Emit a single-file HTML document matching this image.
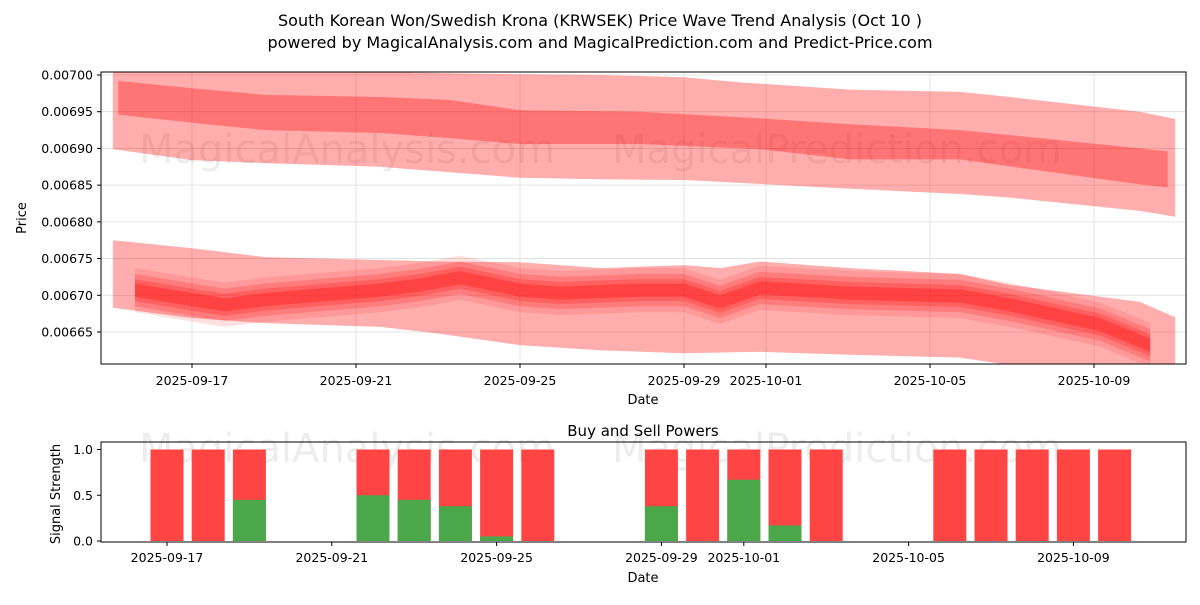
<!DOCTYPE html>
<html><head><meta charset="utf-8"><style>
body{margin:0;background:#fff;font-family:"Liberation Sans","DejaVu Sans",sans-serif;}
svg text{font-family:"DejaVu Sans","Liberation Sans",sans-serif;}
</style></head><body>
<svg id="chart" width="1200" height="600" xmlns="http://www.w3.org/2000/svg">
<rect width="1200" height="600" fill="#fff"/>
<text x="600" y="26" font-size="16" text-anchor="middle">South Korean Won/Swedish Krona (KRWSEK) Price Wave Trend Analysis (Oct 10 )</text>
<text x="600" y="48" font-size="16" text-anchor="middle">powered by MagicalAnalysis.com and MagicalPrediction.com and Predict-Price.com</text>
<defs>
<clipPath id="c1"><rect x="101" y="72" width="1085" height="292"/></clipPath>
<clipPath id="c2"><rect x="101" y="442" width="1085" height="100"/></clipPath>
</defs>
<g id="topPlot"></g>
<g id="botPlot"></g>
</svg>
<script>
// ---- price chart data (days relative to 2025-09-17) ----
const upOuterDays=[-1.93,0,1.78,4.59,8,9.95,12,13.37,16.05,18.73,19.95,23.12,23.98];
const upOuterTop=[0.007004,0.007004,0.007004,0.007004,0.007001,0.0070,0.006997,0.00699,0.00698,0.006977,0.00697,0.00695,0.00694];
const upOuterBot=[0.006899,0.006884,0.00688,0.006875,0.00686,0.006858,0.006857,0.006853,0.006845,0.006838,0.006833,0.006815,0.006807];
const upInnerDays=[-1.8,0,1.78,4.59,6.3,8,10.93,13.85,16.05,18.73,23.12,23.8];
const upInnerTop=[0.006992,0.006982,0.006973,0.00697,0.006966,0.006952,0.00695,0.006941,0.006933,0.006925,0.0069,0.006896];
const upInnerBot=[0.006946,0.006935,0.006925,0.006921,0.006914,0.006906,0.006906,0.006899,0.006885,0.006885,0.006851,0.006847];
const loOuterDays=[-1.93,0,1.78,4.59,6,8,10,12,12.9,13.85,16.05,18.73,19.95,23.12,23.98];
const loOuterTop=[0.006775,0.006764,0.006752,0.006748,0.006746,0.006745,0.006737,0.006741,0.006737,0.006746,0.006737,0.006729,0.006714,0.006691,0.00667];
const loOuterBot=[0.006683,0.006669,0.006662,0.006657,0.006648,0.006632,0.006625,0.006621,0.006622,0.006623,0.006619,0.006615,0.006605,0.00659,0.006585];
const loCoreDays=[-1.39,0,0.8,1.78,4.59,5.56,6.54,8,8.98,10.93,12,12.88,13.85,16.05,18.73,19.95,22.15,23.37];
const loCoreVals=[0.006707,0.006694,0.006687,0.006694,0.006707,0.006714,0.006724,0.006707,0.006703,0.006707,0.006707,0.006691,0.00671,0.006703,0.006699,0.006687,0.00666,0.006632];
const yTicks=[0.00665,0.00670,0.00675,0.00680,0.00685,0.00690,0.00695,0.00700];
const xTickDays=[0,4,8,12,14,18,22];
const xTickLabels=["2025-09-17","2025-09-21","2025-09-25","2025-09-29","2025-10-01","2025-10-05","2025-10-09"];
// ---- signal chart data ----
const barDays=[0,1,2,5,6,7,8,9,12,13,14,15,16,19,20,21,22,23];
const buyVals=[0,0,0.45,0.5,0.45,0.38,0.05,0,0.38,0,0.67,0.17,0,0,0,0,0,0];
const sigTicks=[0,0.5,1.0];

const NS="http://www.w3.org/2000/svg";
function mk(tag,attrs,parent){const e=document.createElementNS(NS,tag);for(const k in attrs)e.setAttribute(k,attrs[k]);parent.appendChild(e);return e;}
const X1=d=>192+d*41, Y1=v=>75+(0.007-v)*734200;
const X2=d=>167+d*41.2, Y2=v=>541-v*91.5;
const gTop=document.getElementById('topPlot'), gBot=document.getElementById('botPlot');

yTicks.forEach(t=>{mk('line',{x1:101,x2:1186,y1:Y1(t),y2:Y1(t),stroke:'#ddd','stroke-width':0.8},gTop);});
xTickDays.forEach(d=>{mk('line',{x1:X1(d),x2:X1(d),y1:72,y2:364,stroke:'#ddd','stroke-width':0.8},gTop);});
const wm1=mk('text',{x:347,y:163,'font-size':40,fill:'#000','fill-opacity':0.07,'text-anchor':'middle'},gTop);wm1.textContent='MagicalAnalysis.com';


const wm2=mk('text',{x:837,y:163,'font-size':40,fill:'#000','fill-opacity':0.07,'text-anchor':'middle'},gTop);wm2.textContent='MagicalPrediction.com';


const gc=mk('g',{'clip-path':'url(#c1)'},gTop);
function band(days,tops,bots,fill,op,name){
  let pts=days.map((d,i)=>X1(d)+','+Y1(tops[i]));
  for(let i=days.length-1;i>=0;i--)pts.push(X1(days[i])+','+Y1(bots[i]));
  const p=mk('polygon',{points:pts.join(' '),fill:fill,'fill-opacity':op},gc);
  
  
}
band(upOuterDays,upOuterTop,upOuterBot,'#ff0000',0.32,'upper-outer-band');
band(upInnerDays,upInnerTop,upInnerBot,'#ff0000',0.32,'upper-inner-band');
band(loOuterDays,loOuterTop,loOuterBot,'#ff0000',0.32,'lower-outer-band');
[[0.000030,0.12],[0.000022,0.18],[0.000015,0.22],[0.000009,0.3]].forEach(([hw,op])=>{
  band(loCoreDays,loCoreVals.map(v=>v+hw),loCoreVals.map(v=>v-hw),'#ff0000',op,'lower-wave-band');
});
mk('rect',{x:101,y:72,width:1085,height:292,fill:'none',stroke:'#000','stroke-width':1},gTop);
yTicks.forEach(t=>{const y=Y1(t);mk('line',{x1:97,x2:101,y1:y,y2:y,stroke:'#000'},gTop);
  const tx=mk('text',{x:93,y:y+4.5,'font-size':12.5,'text-anchor':'end'},gTop);tx.textContent=t.toFixed(5);
  
  });
xTickDays.forEach((d,i)=>{const x=X1(d);mk('line',{x1:x,x2:x,y1:364,y2:368,stroke:'#000'},gTop);
  const tx=mk('text',{x:x,y:385,'font-size':12.5,'text-anchor':'middle'},gTop);tx.textContent=xTickLabels[i];
  
  });
const xl=mk('text',{x:643,y:404,'font-size':13,'text-anchor':'middle'},gTop);xl.textContent='Date';


const yl=mk('text',{x:0,y:0,'font-size':13,'text-anchor':'middle',transform:'translate(26,218) rotate(-90)'},gTop);yl.textContent='Price';



const bt=mk('text',{x:643,y:436,'font-size':15,'text-anchor':'middle'},gBot);bt.textContent='Buy and Sell Powers';


const wm3=mk('text',{x:347,y:462,'font-size':40,fill:'#000','fill-opacity':0.07,'text-anchor':'middle'},gBot);wm3.textContent='MagicalAnalysis.com';


const wm4=mk('text',{x:837,y:462,'font-size':40,fill:'#000','fill-opacity':0.07,'text-anchor':'middle'},gBot);wm4.textContent='MagicalPrediction.com';


const gb=mk('g',{'clip-path':'url(#c2)'},gBot);
barDays.forEach((d,i)=>{const x=X2(d)-16.5;
  const r=mk('rect',{x:x,y:Y2(1),width:33,height:Y2(0)-Y2(1),fill:'#ff4444'},gb);
  
  
  if(buyVals[i]>0){const g=mk('rect',{x:x,y:Y2(buyVals[i]),width:33,height:Y2(0)-Y2(buyVals[i]),fill:'#4aa84a'},gb);
  
  }
});
mk('rect',{x:101,y:442,width:1085,height:100,fill:'none',stroke:'#000','stroke-width':1},gBot);
sigTicks.forEach(t=>{const y=Y2(t);mk('line',{x1:97,x2:101,y1:y,y2:y,stroke:'#000'},gBot);
  const tx=mk('text',{x:93,y:y+4.5,'font-size':12.5,'text-anchor':'end'},gBot);tx.textContent=t.toFixed(1);
  
  });
xTickDays.forEach((d,i)=>{const x=X2(d);mk('line',{x1:x,x2:x,y1:542,y2:546,stroke:'#000'},gBot);
  const tx=mk('text',{x:x,y:562,'font-size':12.5,'text-anchor':'middle'},gBot);tx.textContent=xTickLabels[i];
  
  });
const xl2=mk('text',{x:643,y:582,'font-size':13,'text-anchor':'middle'},gBot);xl2.textContent='Date';


const yl2=mk('text',{x:0,y:0,'font-size':13,'text-anchor':'middle',transform:'translate(60,494) rotate(-90)'},gBot);yl2.textContent='Signal Strength';


</script>
</body></html>
